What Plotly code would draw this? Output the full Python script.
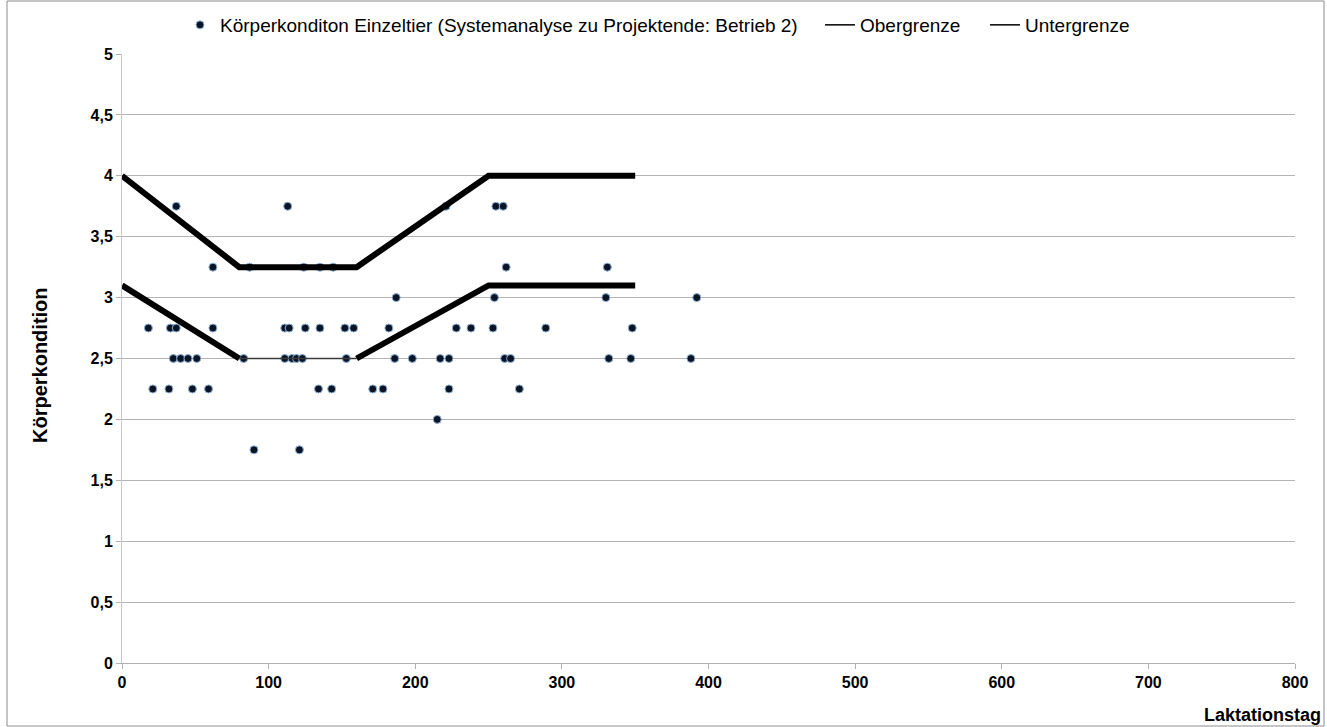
import plotly.graph_objects as go

# Lactation day and body condition score of individual cows
tag = [37, 62, 18, 33, 37, 62, 35, 40, 45, 51, 21, 32, 48, 59,
       113, 87, 124, 135, 144, 111, 114, 125, 135, 152, 158,
       83, 111, 116, 119, 123, 153, 134, 143, 90, 121,
       221, 187, 182, 228, 238, 186, 198, 217, 223, 171, 178, 223, 215,
       255, 260, 262, 254, 253, 289, 261, 265, 271,
       331, 330, 392, 348, 332, 347, 388]
kondition = [3.75, 3.25, 2.75, 2.75, 2.75, 2.75, 2.5, 2.5, 2.5, 2.5, 2.25, 2.25, 2.25, 2.25,
             3.75, 3.25, 3.25, 3.25, 3.25, 2.75, 2.75, 2.75, 2.75, 2.75, 2.75,
             2.5, 2.5, 2.5, 2.5, 2.5, 2.5, 2.25, 2.25, 1.75, 1.75,
             3.75, 3.0, 2.75, 2.75, 2.75, 2.5, 2.5, 2.5, 2.5, 2.25, 2.25, 2.25, 2.0,
             3.75, 3.75, 3.25, 3.0, 2.75, 2.75, 2.5, 2.5, 2.25,
             3.25, 3.0, 3.0, 2.75, 2.5, 2.5, 2.5]

# Target corridor
grenze_tag = [0, 80, 160, 250, 350]
obergrenze = [4.0, 3.25, 3.25, 4.0, 4.0]
untergrenze = [3.1, 2.5, 2.5, 3.1, 3.1]

y_ticks = [0, 0.5, 1, 1.5, 2, 2.5, 3, 3.5, 4, 4.5, 5]
x_ticks = [0, 100, 200, 300, 400, 500, 600, 700, 800]

font_family = "Liberation Sans, Arial, sans-serif"
W, H = 1327, 727
L, R, T, B = 122, 32, 54, 64
PW, PH = W - L - R, H - T - B


def px_x(p):
    return (p - L) / PW


def px_y(p):
    return (H - B - p) / PH


fig = go.Figure()

fig.add_trace(go.Scatter(
    x=tag, y=kondition, mode="markers", legend="legend",
    name="Körperkonditon Einzeltier (Systemanalyse zu Projektende: Betrieb 2)",
    marker=dict(size=8, color="#0b1424", line=dict(color="#8fb4dc", width=1)),
))

# Upper limit
fig.add_trace(go.Scatter(
    x=grenze_tag, y=obergrenze, mode="lines", showlegend=False,
    line=dict(color="#000000", width=6), hoverinfo="skip",
))
# Lower limit: thick falling/rising parts, thin plateau
fig.add_trace(go.Scatter(
    x=grenze_tag[:2], y=untergrenze[:2], mode="lines", showlegend=False,
    line=dict(color="#000000", width=6), hoverinfo="skip",
))
fig.add_trace(go.Scatter(
    x=grenze_tag[1:3], y=untergrenze[1:3], mode="lines", showlegend=False,
    line=dict(color="#3a3a3a", width=1.5), hoverinfo="skip",
))
fig.add_trace(go.Scatter(
    x=grenze_tag[2:], y=untergrenze[2:], mode="lines", showlegend=False,
    line=dict(color="#000000", width=6), hoverinfo="skip",
))

# Legend entries for the limits (thin line symbols)
fig.add_trace(go.Scatter(x=[None], y=[None], mode="lines", name="Obergrenze",
                         legend="legend2", line=dict(color="#000000", width=1.5)))
fig.add_trace(go.Scatter(x=[None], y=[None], mode="lines", name="Untergrenze",
                         legend="legend3", line=dict(color="#000000", width=1.5)))

legend_common = dict(orientation="h", xanchor="left", yref="container",
                     y=1 - 25 / H, yanchor="middle", itemwidth=30,
                     font=dict(size=19, family=font_family),
                     bgcolor="rgba(0,0,0,0)")

fig.update_layout(
    width=W, height=H,
    margin=dict(l=L, r=R, t=T, b=B, autoexpand=False),
    paper_bgcolor="white", plot_bgcolor="white",
    separators=", ",
    font=dict(family=font_family, size=14, color="#000000"),
    showlegend=True,
    legend=dict(x=px_x(180), **legend_common),
    legend2=dict(x=px_x(820), **legend_common),
    legend3=dict(x=px_x(985), **legend_common),
    xaxis=dict(range=[0, 800], tickvals=x_ticks, showgrid=False, zeroline=False,
               showline=True, linecolor="#b0b0b0", linewidth=1,
               ticks="outside", ticklen=5, tickcolor="#b0b0b0",
               tickfont=dict(size=16, weight="bold", family=font_family)),
    yaxis=dict(range=[0, 5], tickvals=y_ticks, showgrid=True, gridcolor="#b4b4b4",
               gridwidth=1, zeroline=False, showline=True, linecolor="#c8c8c8",
               ticks="outside", ticklen=5, tickcolor="#b0b0b0",
               tickfont=dict(size=16, weight="bold", family=font_family)),
    annotations=[
        dict(text="Laktationstag", xref="paper", yref="paper",
             x=px_x(1323), y=px_y(715), xanchor="right", yanchor="middle",
             showarrow=False, font=dict(size=18, weight="bold", family=font_family)),
        dict(text="Körperkondition", xref="paper", yref="paper", textangle=-90,
             x=px_x(40), y=px_y(365), xanchor="center", yanchor="middle",
             showarrow=False, font=dict(size=20, weight="bold", family=font_family)),
    ],
    shapes=[dict(type="rect", xref="paper", yref="paper",
                 x0=px_x(7), x1=px_x(1324), y0=px_y(726), y1=px_y(1),
                 line=dict(color="#8c8c8c", width=1), layer="below")],
)

fig.write_html("out.html")
